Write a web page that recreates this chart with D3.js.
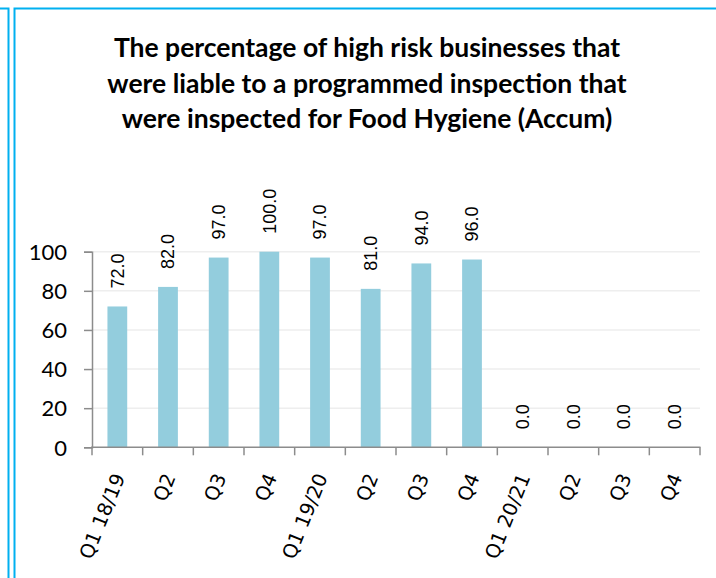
<!DOCTYPE html>
<html>
<head>
<meta charset="utf-8">
<script src="https://cdn.jsdelivr.net/npm/d3@7"></script>
<style>
  html, body { margin: 0; padding: 0; background: #fff; }
  svg { display: block; }
  .xl { font-family: "DejaVu Sans", Verdana, sans-serif; }
</style>
</head>
<body>
<svg id="chart" width="716" height="578"></svg>
<script>
const titleLines = [
  "The percentage of high risk businesses that",
  "were liable to a programmed inspection that",
  "were inspected for Food Hygiene (Accum)"
];
const categories = ["Q1 18/19", "Q2 a", "Q3 a", "Q4 a", "Q1 19/20", "Q2 b", "Q3 b", "Q4 b", "Q1 20/21", "Q2 c", "Q3 c", "Q4 c"];
const categoryLabels = ["Q1 18/19", "Q2", "Q3", "Q4", "Q1 19/20", "Q2", "Q3", "Q4", "Q1 20/21", "Q2", "Q3", "Q4"];
const values = [72.0, 82.0, 97.0, 100.0, 97.0, 81.0, 94.0, 96.0, 0.0, 0.0, 0.0, 0.0];
const yTicks = [0, 20, 40, 60, 80, 100];

const svg = d3.select("#chart");
const blue = "#00B0F0";

// panel borders
svg.append("rect").attr("width", 716).attr("height", 578).attr("fill", "#fff");
const borders = svg.append("g").attr("fill", "none").attr("stroke", blue).attr("stroke-width", 2);
borders.append("path").attr("d", "M0,8.5H8.5V578");
borders.append("path").attr("d", "M14.5,578V8.5H716");

// title
const title = svg.append("text")
  .attr("text-anchor", "middle")
  .attr("font-family", "Lato, 'Open Sans', sans-serif")
  .attr("font-weight", "bold")
  .attr("font-size", 26.5)
  .attr("fill", "#000");
titleLines.forEach((t, i) => {
  title.append("tspan").attr("x", 367).attr("y", 57 + i * 35.5).text(t);
});

// scales
const x = d3.scaleBand().domain(categories).range([92, 700]).padding(0);
const y = d3.scaleLinear().domain([0, 100]).range([447.3, 251.7]);
const barW = x.bandwidth() * 0.39;
const axisColor = "#8c8c8c";

// gridlines
svg.append("g").selectAll("line").data(yTicks.filter(d => d > 0)).join("line")
  .attr("x1", 92).attr("x2", 700)
  .attr("y1", d => y(d)).attr("y2", d => y(d))
  .attr("stroke", "#eeeeee").attr("stroke-width", 1.5);

// bars
svg.append("g").selectAll("rect").data(values).join("rect")
  .attr("x", (d, i) => x(categories[i]) + x.bandwidth() / 2 - barW / 2)
  .attr("width", barW)
  .attr("y", d => y(d))
  .attr("height", d => y(0) - y(d))
  .attr("fill", "#93CDDD");

// y axis
const yAxis = svg.append("g").attr("transform", "translate(92,0)")
  .call(d3.axisLeft(y).tickValues(yTicks).tickSize(8).tickPadding(17).tickFormat(d3.format("d")));
yAxis.select(".domain").attr("stroke", axisColor).attr("stroke-width", 1.5);
yAxis.selectAll(".tick line").attr("stroke", axisColor).attr("stroke-width", 1.5);
yAxis.selectAll(".tick text")
  .attr("font-family", "Lato, 'Open Sans', sans-serif")
  .attr("font-size", 22).attr("fill", "#000").attr("dy", "0.35em");

// x axis
const xAxis = svg.append("g").attr("transform", `translate(0,${y(0)})`);
xAxis.append("line").attr("x1", 91).attr("x2", 700.5).attr("stroke", axisColor).attr("stroke-width", 1.5);
const boundaries = categories.map(c => x(c)).concat([x(categories[categories.length - 1]) + x.bandwidth()]);
xAxis.selectAll("line.tk").data(boundaries).join("line").attr("class", "tk")
  .attr("x1", d => d).attr("x2", d => d).attr("y1", 0).attr("y2", 8)
  .attr("stroke", axisColor).attr("stroke-width", 1.5);

// x labels
svg.append("g").selectAll("text").data(categories).join("text")
  .attr("class", "xl")
  .attr("transform", c => `translate(${x(c) + x.bandwidth() / 2 + 8},${477}) rotate(-68)`)
  .attr("text-anchor", "end")
  .attr("font-size", 19.5)
  .attr("fill", "#000")
  .text((c, i) => categoryLabels[i]);

// data labels
svg.append("g").selectAll("text").data(values).join("text")
  .attr("transform", (d, i) => `translate(${x(categories[i]) + x.bandwidth() / 2},${y(d) - 18}) rotate(-90)`)
  .attr("dy", "0.35em")
  .attr("text-anchor", "start")
  .attr("font-family", "'Liberation Sans', Arial, sans-serif")
  .attr("font-size", 18)
  .attr("fill", "#000")
  .text(d => d3.format(".1f")(d));
</script>
</body>
</html>
